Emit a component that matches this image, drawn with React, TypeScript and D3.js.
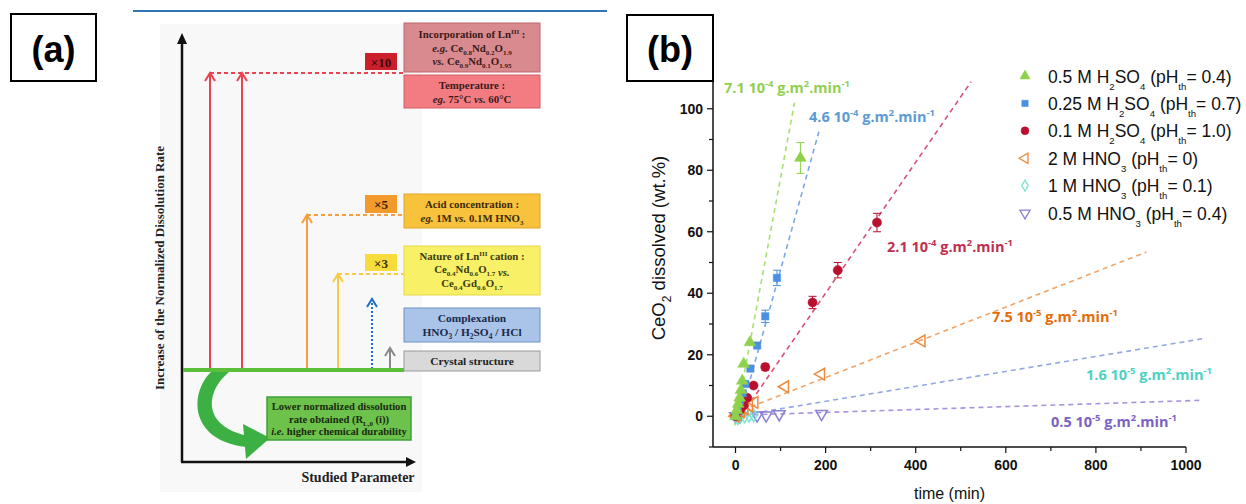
import React from "react";
import * as d3 from "d3";

// ---------- Panel (b) data ----------
const xTicks = [0, 200, 400, 600, 800, 1000];
const yTicks = [0, 20, 40, 60, 80, 100];

const seriesLabels = [
  "0.5 M H_{2}SO_{4} (pH_{th}= 0.4)",
  "0.25 M H_{2}SO_{4} (pH_{th}= 0.7)",
  "0.1 M H_{2}SO_{4} (pH_{th}= 1.0)",
  "2 M HNO_{3} (pH_{th}= 0)",
  "1 M HNO_{3} (pH_{th}= 0.1)",
  "0.5 M HNO_{3} (pH_{th}= 0.4)",
];

// [time (min), wt.%, error]
const h2so4_05 = [[0, 0, 0], [3, 2, 0], [6, 4, 0], [9, 6, 0], [12, 8.5, 0], [15, 11.5, 0], [18, 17, 0], [32, 24, 0], [144, 84, 5]];
const h2so4_025 = [[0, 0, 0], [5, 2, 0], [10, 5, 0], [16, 7.5, 0], [22, 10.5, 0], [33, 15.5, 0], [48, 23, 0], [66, 32.5, 2], [92, 45, 2.5]];
const h2so4_01 = [[0, 0, 0], [10, 2, 0], [18, 3.5, 0], [26, 6, 0], [40, 10, 0], [66, 16, 1], [171, 37, 2], [227, 47.5, 2.5], [314, 63, 3]];
const hno3_2 = [[0, 0, 0], [5, 0.5, 0], [12, 1.5, 0], [20, 2.5, 0], [30, 3.5, 0], [42, 4.5, 0], [110, 9.6, 0], [190, 13.7, 0], [413, 24.5, 0]];
const hno3_1 = [[0, 0, 0], [5, -0.6, 0], [10, -0.3, 0], [20, 0, 0], [30, 0.2, 0], [40, 0.3, 0]];
const hno3_05 = [[0, 0, 0], [10, 0.2, 0], [48, 0.3, 0], [68, 0.3, 0], [97, 0.7, 0], [191, 0.8, 0]];

// fitted lines: [t0, v0, t1, v1]
const fits = [
  [-2, -3, 131, 102],
  [6, -2, 185, 92.5],
  [12, 0, 523, 108.8],
  [15, 2, 912, 53.4],
  [0, 0, 1045, 25.4],
  [0, 0.3, 1038, 5.2],
];

const rateLabels = [
  "7.1 10^{-4} g.m^{2}.min^{-1}",
  "4.6 10^{-4} g.m^{2}.min^{-1}",
  "2.1 10^{-4} g.m^{2}.min^{-1}",
  "7.5 10^{-5} g.m^{2}.min^{-1}",
  "1.6 10^{-5} g.m^{2}.min^{-1}",
  "0.5 10^{-5} g.m^{2}.min^{-1}",
];

const markerColors = ["#8fd14a", "#4a8fe0", "#b8102e", "#f0883a", "#7fe3d2", "#8a80d4"];
const lineColors = ["#a6e070", "#79a8e8", "#d8507a", "#f2a466", "#92a8e0", "#a892dc"];
const labelColors = ["#92d050", "#5b9bd5", "#c0304e", "#e46c0a", "#4dd2c2", "#7a62c4"];
const filled = [true, true, true, false, false, false];

const allSeries = [h2so4_05, h2so4_025, h2so4_01, hno3_2, hno3_1, hno3_05];

// ---------- rich text helper ----------
function Rich({ text, fs, sub = 0.3, sup = 0.38, scale = 0.65 }: { text: string; fs: number; sub?: number; sup?: number; scale?: number }) {
  const out: any[] = [];
  const re = /([_^])\{([^}]*)\}/g;
  let last = 0;
  let shift = 0;
  let k = 0;
  let m: RegExpExecArray | null;
  while ((m = re.exec(text))) {
    if (m.index > last) {
      out.push(<tspan key={k++} dy={-shift}>{text.slice(last, m.index)}</tspan>);
      shift = 0;
    }
    const d = m[1] === "_" ? fs * sub : -fs * sup;
    out.push(
      <tspan key={k++} dy={d - shift} fontSize={fs * scale}>
        {m[2]}
      </tspan>
    );
    shift = d;
    last = re.lastIndex;
  }
  if (last < text.length) {
    out.push(<tspan key={k++} dy={-shift}>{text.slice(last)}</tspan>);
  }
  return <>{out}</>;
}

function markerPath(i: number, size: number) {
  if (i === 2) return d3.symbol().type(d3.symbolCircle).size(size * 1.1)()!;
  if (i === 1) return d3.symbol().type(d3.symbolSquare).size(size * 0.9)()!;
  if (i === 4) return d3.symbol().type(d3.symbolDiamond).size(size * 0.8)()!;
  return d3.symbol().type(d3.symbolTriangle).size(size)()!;
}
function markerRotation(i: number) {
  if (i === 3) return -90;
  if (i === 5) return 180;
  return 0;
}

// ---------- Panel (a) ----------
const serif = "'Liberation Serif', 'Times New Roman', serif";
const sans = "'Liberation Sans', Arial, sans-serif";

function ArrowUp({ x, top, color, dash }: { x: number; top: number; color: string; dash?: string }) {
  return (
    <g>
      <line x1={x} x2={x} y1={369} y2={top + 1} stroke={color} strokeWidth={2} strokeDasharray={dash} />
      <polyline points={`${x - 5},${top + 8} ${x},${top} ${x + 5},${top + 8}`} fill="none" stroke={color} strokeWidth={2} />
    </g>
  );
}

function PanelA() {
  const bx = 404, bw = 136;
  const fs = 10.8;
  const tx = bx + bw / 2;
  return (
    <g fontFamily={serif} fontWeight="bold">
      <rect x={160} y={24} width={262} height={468} fill="#f8f8f8" />
      <line x1={133} x2={607} y1={11} y2={11} stroke="#2e75b6" strokeWidth={2} />
      {/* axes */}
      <line x1={182} x2={182} y1={462} y2={42} stroke="#111" strokeWidth={2.5} />
      <polygon points="177,44 182,33 187,44" fill="#111" />
      <line x1={181} x2={408} y1={462} y2={462} stroke="#111" strokeWidth={2.5} />
      <polygon points="406,457 416,462 406,467" fill="#111" />
      <text transform="translate(164,268) rotate(-90)" textAnchor="middle" fontSize={13} fill="#222">
        Increase of the Normalized Dissolution Rate
      </text>
      <text x={358} y={482} textAnchor="middle" fontSize={14} fill="#222">Studied Parameter</text>

      {/* dashed levels */}
      <line x1={210} x2={404} y1={73} y2={73} stroke="#e8434f" strokeWidth={2} strokeDasharray="4,3" />
      <line x1={307} x2={404} y1={215} y2={215} stroke="#f5a040" strokeWidth={1.8} strokeDasharray="4,3" />
      <line x1={338} x2={404} y1={274} y2={274} stroke="#f7cc40" strokeWidth={1.8} strokeDasharray="4,3" />

      <ArrowUp x={210} top={73} color="#e8434f" />
      <ArrowUp x={242} top={73} color="#e8434f" />
      <ArrowUp x={307} top={215} color="#f5a040" />
      <ArrowUp x={338} top={274} color="#f7cc40" />
      <ArrowUp x={372} top={299} color="#1f6fc4" dash="2,2" />
      <ArrowUp x={390} top={348} color="#8a8a8a" />

      {/* baseline */}
      <line x1={183} x2={404} y1={370} y2={370} stroke="#5cbf3c" strokeWidth={4} />

      {/* multiplier tags */}
      <rect x={365} y={53} width={32} height={17} fill="#cc1f2c" />
      <text x={381} y={66.5} textAnchor="middle" fontSize={13} fill="#3a0a0a">×10</text>
      <rect x={365} y={195} width={32} height={18} fill="#f39a2c" />
      <text x={381} y={209} textAnchor="middle" fontSize={13} fill="#3a2008">×5</text>
      <rect x={365} y={254} width={32} height={17} fill="#f8dc3c" />
      <text x={381} y={267.5} textAnchor="middle" fontSize={13} fill="#3a3008">×3</text>

      {/* boxes */}
      <rect x={bx} y={23} width={bw} height={49} fill="#d98a8e" stroke="#c0646a" strokeWidth={1} />
      <text x={tx} y={38} textAnchor="middle" fontSize={fs} fill="#3a1a1a"><Rich text="Incorporation of Ln^{III} :" fs={fs} /></text>
      <text x={tx} y={52} textAnchor="middle" fontSize={fs} fill="#3a1a1a"><tspan fontStyle="italic">e.g. </tspan><Rich text="Ce_{0.8}Nd_{0.2}O_{1.9}" fs={fs} /></text>
      <text x={tx} y={65} textAnchor="middle" fontSize={fs} fill="#3a1a1a"><tspan fontStyle="italic">vs. </tspan><Rich text="Ce_{0.9}Nd_{0.1}O_{1.95}" fs={fs} /></text>

      <rect x={bx} y={75} width={bw} height={33} fill="#f27c82" stroke="#d85a62" strokeWidth={1} />
      <text x={tx} y={89} textAnchor="middle" fontSize={fs} fill="#3a1a1a">Temperature :</text>
      <text x={tx} y={103} textAnchor="middle" fontSize={fs} fill="#3a1a1a"><tspan fontStyle="italic">eg.</tspan> 75°C <tspan fontStyle="italic">vs.</tspan> 60°C</text>

      <rect x={bx} y={194} width={bw} height={34} fill="#f9c23c" stroke="#e0a326" strokeWidth={1} />
      <text x={tx} y={208} textAnchor="middle" fontSize={fs} fill="#3a2a08">Acid concentration :</text>
      <text x={tx} y={222} textAnchor="middle" fontSize={fs} fill="#3a2a08"><tspan fontStyle="italic">eg.</tspan> 1M <tspan fontStyle="italic">vs.</tspan> <Rich text="0.1M HNO_{3}" fs={fs} /></text>

      <rect x={bx} y={246} width={bw} height={49} fill="#f8f066" stroke="#e6d84a" strokeWidth={1} />
      <text x={tx} y={260} textAnchor="middle" fontSize={fs} fill="#3a3a10"><Rich text="Nature of Ln^{III} cation :" fs={fs} /></text>
      <text x={tx} y={273} textAnchor="middle" fontSize={fs} fill="#3a3a10"><Rich text="Ce_{0.4}Nd_{0.6}O_{1.7}" fs={fs} /><tspan fontStyle="italic"> vs.</tspan></text>
      <text x={tx} y={287} textAnchor="middle" fontSize={fs} fill="#3a3a10"><Rich text="Ce_{0.4}Gd_{0.6}O_{1.7}" fs={fs} /></text>

      <rect x={bx} y={308} width={bw} height={34} fill="#a9c4e8" stroke="#6f92c4" strokeWidth={1} />
      <text x={tx} y={322} textAnchor="middle" fontSize={fs + 0.6} fill="#1a2a4a">Complexation</text>
      <text x={tx} y={336} textAnchor="middle" fontSize={fs + 0.6} fill="#1a2a4a"><Rich text="HNO_{3} / H_{2}SO_{4} / HCl" fs={fs + 0.6} /></text>

      <rect x={bx} y={351} width={bw} height={20} fill="#d9d9d9" stroke="#9a9a9a" strokeWidth={1} />
      <text x={tx} y={365} textAnchor="middle" fontSize={fs + 0.6} fill="#222">Crystal structure</text>

      {/* green curved arrow */}
      <path d="M 211 372 L 229 372 C 205 392, 202 426, 248 436 L 246 447 C 188 440, 190 392, 211 372 Z" fill="#3cb043" />
      <polygon points="243,424 270,438 246,459" fill="#3cb043" />

      <rect x={267} y={397} width={144} height={43} fill="#6cc24a" stroke="#3ca03a" strokeWidth={1.5} />
      <text x={339} y={410} textAnchor="middle" fontSize={10.6} fill="#1a2a10">Lower normalized dissolution</text>
      <text x={339} y={422.5} textAnchor="middle" fontSize={10.6} fill="#1a2a10"><Rich text="rate obtained (R_{L,0} (i))" fs={10.6} /></text>
      <text x={339} y={435} textAnchor="middle" fontSize={10.6} fill="#1a2a10"><tspan fontStyle="italic">i.e.</tspan> higher chemical durability</text>

      {/* label box */}
      <rect x={11} y={14} width={85} height={67} fill="#fff" stroke="#000" strokeWidth={2} />
      <text x={53.5} y={62} textAnchor="middle" fontFamily={sans} fontWeight="bold" fontSize={36} fill="#000">(a)</text>
    </g>
  );
}

// ---------- Panel (b) ----------
function PanelB() {
  const x = d3.scaleLinear().domain([-50, 1000]).range([713, 1186]);
  const y = d3.scaleLinear().domain([-10, 110]).range([447, 78]);
  const minorX = d3.range(0, 1001, 100);
  const minorY = d3.range(-10, 111, 10);
  const lblFont = "'Open Sans', 'Noto Sans', sans-serif";
  const labelPos = [
    [724, 93], [809, 122], [887, 252], [992, 322], [1086, 380], [1051, 427],
  ];
  return (
    <g fontFamily={sans}>
      {/* fit lines */}
      {fits.map((f, i) => (
        <line key={i} x1={x(f[0])} y1={y(f[1])} x2={x(f[2])} y2={y(f[3])} stroke={lineColors[i]} strokeWidth={1.6} strokeDasharray="5,4" />
      ))}
      {/* data, draw low series first */}
      {[5, 4, 3, 2, 1, 0].map((i) => (
        <g key={i}>
          {allSeries[i].map((p, j) => (
            <g key={j}>
              {p[2] > 0 && (
                <g stroke={markerColors[i]} strokeWidth={1}>
                  <line x1={x(p[0])} x2={x(p[0])} y1={y(p[1] - p[2])} y2={y(p[1] + p[2])} />
                  <line x1={x(p[0]) - 4} x2={x(p[0]) + 4} y1={y(p[1] - p[2])} y2={y(p[1] - p[2])} />
                  <line x1={x(p[0]) - 4} x2={x(p[0]) + 4} y1={y(p[1] + p[2])} y2={y(p[1] + p[2])} />
                </g>
              )}
              <path
                d={markerPath(i, 60)}
                transform={`translate(${x(p[0])},${y(p[1])}) rotate(${markerRotation(i)})`}
                fill={filled[i] ? markerColors[i] : "none"}
                stroke={markerColors[i]}
                strokeWidth={filled[i] ? 0.5 : 1.5}
              />
            </g>
          ))}
        </g>
      ))}
      {/* axes */}
      <line x1={713} x2={713} y1={y(110)} y2={y(-10)} stroke="#111" strokeWidth={1.5} />
      <line x1={713} x2={x(1000)} y1={447} y2={447} stroke="#111" strokeWidth={1.5} />
      {minorY.map((t) => (
        <line key={"my" + t} x1={713} x2={t % 20 === 0 ? 707 : 709} y1={y(t)} y2={y(t)} stroke="#111" strokeWidth={1.2} />
      ))}
      {minorX.map((t) => (
        <line key={"mx" + t} x1={x(t)} x2={x(t)} y1={447} y2={t % 200 === 0 ? 453 : 451} stroke="#111" strokeWidth={1.2} />
      ))}
      {yTicks.map((t) => (
        <text key={"yt" + t} x={703} y={y(t) + 5} textAnchor="end" fontSize={14} fontWeight="bold" fill="#111">{t}</text>
      ))}
      {xTicks.map((t) => (
        <text key={"xt" + t} x={x(t)} y={470} textAnchor="middle" fontSize={14} fontWeight="bold" fill="#111">{t}</text>
      ))}
      <text x={(713 + x(1000)) / 2} y={499} textAnchor="middle" fontSize={16} fill="#111">time (min)</text>
      <text transform="translate(665,248) rotate(-90)" textAnchor="middle" fontSize={18.5} fill="#111">
        <Rich text="CeO_{2} dissolved (wt.%)" fs={18.5} sub={0.35} />
      </text>

      {/* rate labels */}
      {rateLabels.map((s, i) => (
        <text key={"rl" + i} x={labelPos[i][0]} y={labelPos[i][1]} fontSize={14.5} fontWeight={700} fontFamily={lblFont} fill={labelColors[i]}>
          <Rich text={s} fs={14.5} />
        </text>
      ))}

      {/* legend */}
      {seriesLabels.map((s, i) => (
        <g key={"lg" + i} transform={`translate(1025,${76 + i * 27.4})`}>
          <path
            d={markerPath(i, 45)}
            transform={`rotate(${markerRotation(i)})`}
            fill={filled[i] ? markerColors[i] : "none"}
            stroke={markerColors[i]}
            strokeWidth={filled[i] ? 0.5 : 1.3}
          />
          <text x={23} y={6.5} fontSize={17.5} fill="#111"><Rich text={s} fs={17.5} sub={0.4} scale={0.55} /></text>
        </g>
      ))}

      {/* label box */}
      <rect x={627} y={15} width={86} height={66} fill="#fff" stroke="#000" strokeWidth={2} />
      <text x={670} y={62} textAnchor="middle" fontWeight="bold" fontSize={36} fill="#000">(b)</text>
    </g>
  );
}

export default function App() {
  return (
    <svg width={1246} height={504} viewBox="0 0 1246 504" style={{ display: "block", position: "absolute", left: 0, top: 0, background: "#fff" }}>
      <rect x={0} y={0} width={1246} height={504} fill="#fff" />
      <PanelA />
      <PanelB />
    </svg>
  );
}
